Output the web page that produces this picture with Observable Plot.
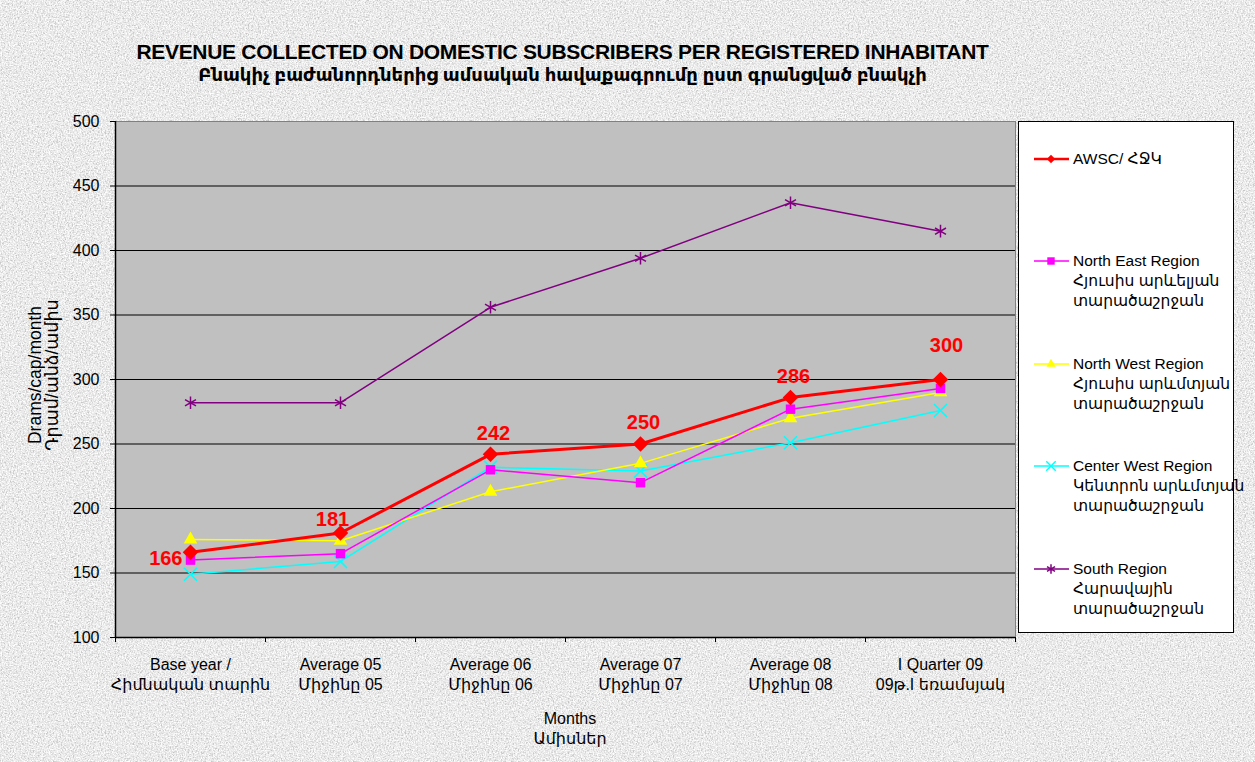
<!DOCTYPE html>
<html>
<head>
<meta charset="utf-8">
<script src="https://cdn.jsdelivr.net/npm/d3@7"></script>
<script src="https://cdn.jsdelivr.net/npm/@observablehq/plot@0.6"></script>
<style>
  html, body { margin: 0; padding: 0; }
  body { width: 1255px; height: 762px; overflow: hidden; font-family: "Liberation Sans", Arial, "DejaVu Sans", sans-serif; }
  #wrap { position: relative; width: 1255px; height: 762px; background-color: #e9e9e9;
    background-image: url("data:image/svg+xml;utf8,<svg xmlns='http://www.w3.org/2000/svg' width='300' height='300'><filter id='n'><feTurbulence type='fractalNoise' baseFrequency='0.75' numOctaves='3' seed='3'/><feColorMatrix type='matrix' values='0 0 0 0 1  0 0 0 0 1  0 0 0 0 1  0 0 0 3 -1.2'/></filter><rect width='300' height='300' filter='url(%23n)'/></svg>"), url("data:image/svg+xml;utf8,<svg xmlns='http://www.w3.org/2000/svg' width='300' height='300'><filter id='m'><feTurbulence type='fractalNoise' baseFrequency='0.6' numOctaves='2' seed='9'/><feColorMatrix type='matrix' values='0 0 0 0 0.55  0 0 0 0 0.55  0 0 0 0 0.55  0 0 0 3 -1.25'/></filter><rect width='300' height='300' filter='url(%23m)'/></svg>"); }
  #chart { position: absolute; left: 0; top: 0; }
  .title { position: absolute; left: 0; width: 1125px; text-align: center; font-weight: bold; color: #000; white-space: nowrap; }
  #t1 { top: 40px; font-size: 21px; letter-spacing: -0.3px; }
  #t2 { top: 64px; font-size: 18px; }
  #ylab { position: absolute; left: 44px; top: 375px; transform: translate(-50%, -50%) rotate(-90deg); font-size: 17.5px; line-height: 17px; text-align: center; white-space: nowrap; }
  #xlab { position: absolute; left: 570px; top: 709px; transform: translateX(-50%); font-size: 16px; line-height: 20px; text-align: center; white-space: nowrap; }
  #legend { position: absolute; left: 1018px; top: 121px; width: 214px; height: 510px; background: #fff; border: 1px solid #000; }
  .entry { position: absolute; left: 14px; font-size: 15.5px; line-height: 20px; white-space: nowrap; }
  .entry svg { position: absolute; left: 0; top: 0; }
  .entry span { position: absolute; left: 40px; top: 0; }
</style>
</head>
<body>
<div id="wrap">
  <div id="chart"></div>
  <div class="title" id="t1">REVENUE COLLECTED ON DOMESTIC SUBSCRIBERS PER REGISTERED INHABITANT</div>
  <div class="title" id="t2">Բնակիչ բաժանորդներից ամսական հավաքագրումը ըստ գրանցված բնակչի</div>
  <div id="ylab">Drams/cap/month<br>Դրամ/անձ/ամիս</div>
  <div id="xlab">Months<br>Ամիսներ</div>
  <div id="legend"></div>
</div>
<script>
// ---- data ----
const categories = ["Base year /\nՀիմնական տարին", "Average 05\nՄիջինը 05", "Average 06\nՄիջինը 06", "Average 07\nՄիջինը 07", "Average 08\nՄիջինը 08", "I Quarter 09\n09թ.I եռամսյակ"];
const seriesNames = ["AWSC/ ՀՋԿ", "North East Region\nՀյուսիս արևելյան\nտարածաշրջան", "North West  Region\nՀյուսիս արևմտյան\nտարածաշրջան", "Center West  Region\nԿենտրոն արևմտյան\nտարածաշրջան", "South Region\nՀարավային\nտարածաշրջան"];
const awsc      = [166, 181, 242, 250, 286, 300];
const northEast = [160, 165, 230, 220, 277, 293];
const northWest = [176, 175, 213, 235, 270, 290];
const centerWest= [149, 159, 232, 229, 251, 276];
const south     = [282, 282, 356, 394, 437, 415];
const yTicks    = [100, 150, 200, 250, 300, 350, 400, 450, 500];

// ---- styles ----
const styles = [
  {color: "#ff0000", symbol: "diamond2", r: 7, width: 3, fill: true},
  {color: "#ff00ff", symbol: "square2", r: 6, width: 1.5, fill: true},
  {color: "#ffff00", symbol: "triangle2", r: 6.5, width: 1.5, fill: true},
  {color: "#00ffff", symbol: "times", r: 6, width: 1.5, fill: false},
  {color: "#800080", symbol: "asterisk", r: 6, width: 1.5, fill: false}
];
const allSeries = [awsc, northEast, northWest, centerWest, south];
const rows = allSeries.flatMap((vals, s) => vals.map((v, i) => ({s, i, cat: categories[i], v})));

const marks = [
  Plot.frame({fill: "#c0c0c0", stroke: "#808080"}),
  Plot.gridY(yTicks.slice(1, -1), {stroke: "#000", strokeOpacity: 1, strokeWidth: 1}),
  Plot.ruleX([-0.5], {stroke: "#000", strokeWidth: 1.5}),
  Plot.ruleY([100], {stroke: "#000", strokeWidth: 1.5}),
  Plot.axisY({ticks: yTicks, tickSize: 5, tickPadding: 11, fontSize: 16, label: null, tickFormat: d => d}),
  Plot.axisX({ticks: d3.range(-0.5, 6, 1), tickSize: 5, tickFormat: () => "", label: null}),
  Plot.axisX({ticks: d3.range(0, 6), tickSize: 0, tickPadding: 18, fontSize: 16, lineHeight: 1.25, tickFormat: i => categories[i], label: null})
];
// draw from back (South) to front (AWSC)
for (let s = allSeries.length - 1; s >= 0; s--) {
  const st = styles[s];
  const data = rows.filter(d => d.s === s);
  marks.push(Plot.line(data, {x: "i", y: "v", stroke: st.color, strokeWidth: st.width}));
  marks.push(Plot.dot(data, {x: "i", y: "v", symbol: () => st.symbol, r: st.r,
    fill: st.fill ? st.color : "none", stroke: st.color, strokeWidth: st.fill ? 0 : 1.5}));
}
const labelStyle = {x: "i", y: "v", text: d => String(d.v), fill: "#ff0000", fontSize: 20, fontWeight: "bold"};
const aw = rows.filter(d => d.s === 0);
marks.push(Plot.text(aw.filter(d => d.i === 0), {...labelStyle, textAnchor: "end", dx: -8, dy: 6}));
marks.push(Plot.text(aw.filter(d => d.i === 1), {...labelStyle, dx: -8, dy: -13}));
marks.push(Plot.text(aw.filter(d => d.i >= 2 && d.i <= 4), {...labelStyle, dx: 3, dy: -21}));
marks.push(Plot.text(aw.filter(d => d.i === 5), {...labelStyle, dx: 6, dy: -34}));

const chart = Plot.plot({
  width: 1255, height: 762,
  marginLeft: 115, marginRight: 240, marginTop: 121, marginBottom: 125,
  style: {background: "transparent", fontFamily: "'Liberation Sans', Arial, 'DejaVu Sans', sans-serif", color: "#000", overflow: "visible"},
  x: {type: "linear", domain: [-0.5, 5.5]},
  y: {type: "linear", domain: [100, 500]},
  marks
});
document.getElementById("chart").appendChild(chart);

// ---- legend ----
const legendTops = [27, 129, 232, 334, 437];
const legend = d3.select("#legend");
const symMap = {diamond2: d3.symbolDiamond2, square2: d3.symbolSquare2, triangle2: d3.symbolTriangle2, times: d3.symbolTimes, asterisk: d3.symbolAsterisk};
seriesNames.forEach((name, s) => {
  const st = styles[s];
  const e = legend.append("div").attr("class", "entry").style("top", legendTops[s] + "px");
  const svg = e.append("svg").attr("width", 38).attr("height", 20);
  svg.append("line").attr("x1", 1).attr("x2", 36).attr("y1", 10).attr("y2", 10)
    .attr("stroke", st.color).attr("stroke-width", s === 0 ? 2.5 : 1.5);
  const area = s === 0 ? 45 : (s === 1 ? 70 : 60);
  svg.append("path").attr("transform", "translate(18,10)")
    .attr("d", d3.symbol(symMap[st.symbol], area)())
    .attr("fill", st.fill ? st.color : "none").attr("stroke", st.fill ? "none" : st.color).attr("stroke-width", 1.5);
  e.append("span").html(name.split("\n").join("<br>"));
});
</script>
</body>
</html>
